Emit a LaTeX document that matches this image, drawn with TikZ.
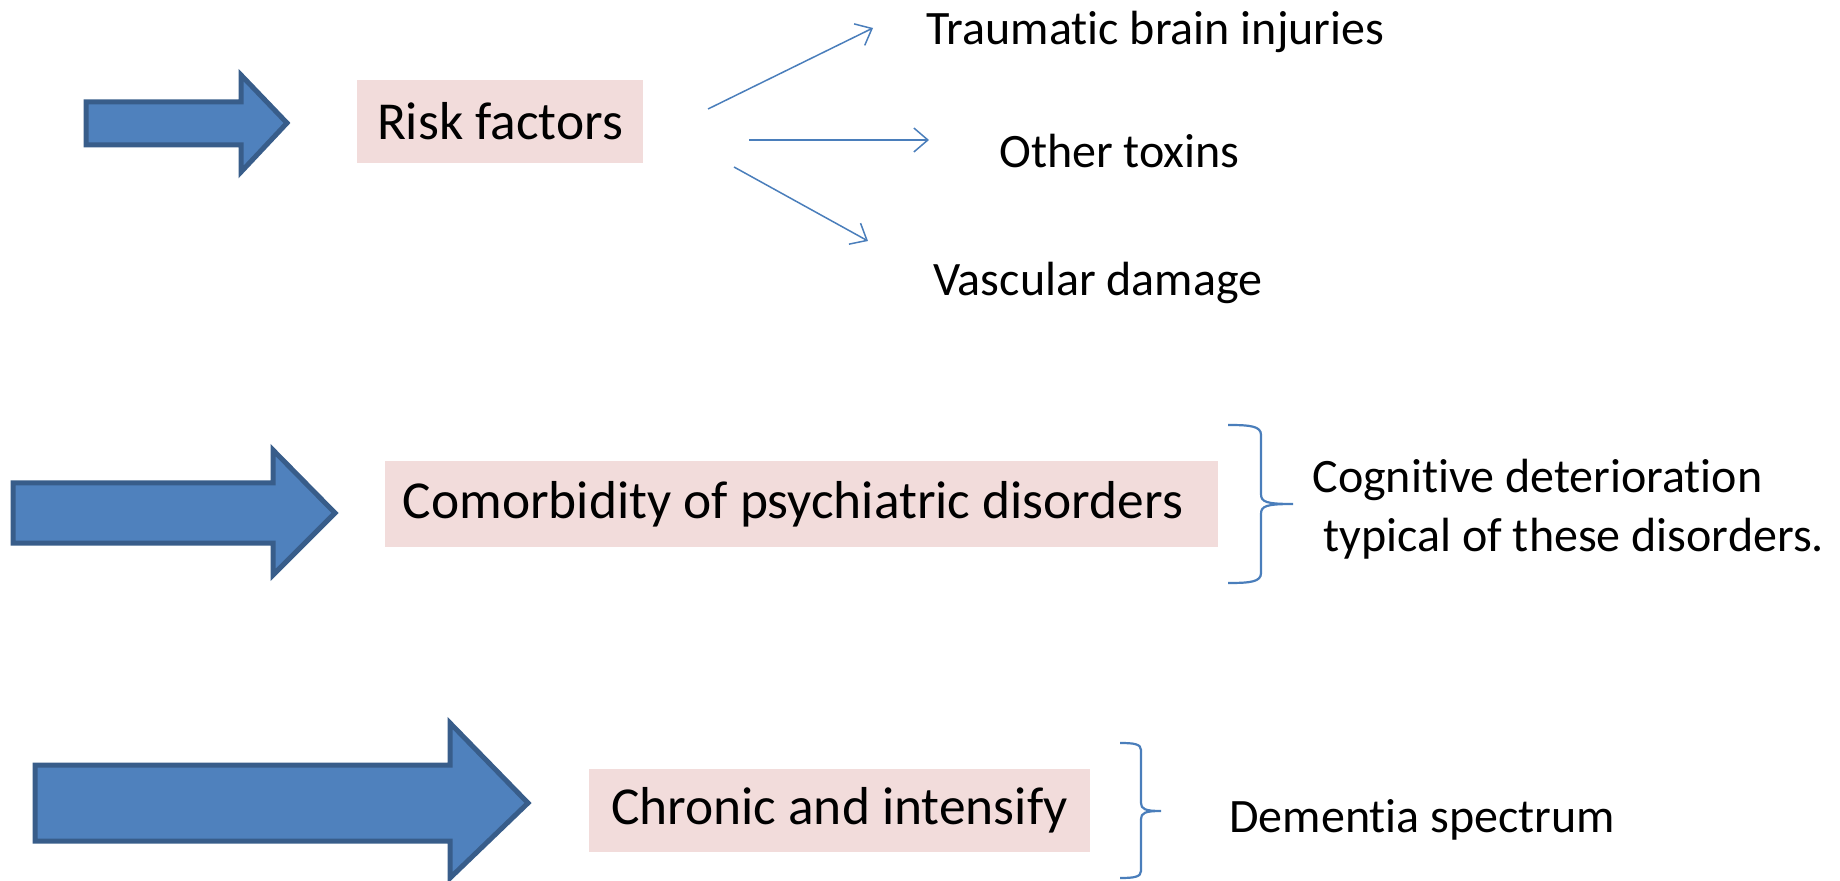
\documentclass[tikz,border=0pt]{standalone}
\usepackage{fontspec}
\setmainfont[Ligatures=NoCommon]{Carlito}
\usetikzlibrary{arrows.meta}
\begin{document}
\begin{tikzpicture}[x=0.5pt,y=-0.5pt,
  bigarrow/.style={fill=arrowfill,draw=arrowline,line width=2.5pt,line join=miter},
  pinkbox/.style={fill=boxpink,inner sep=0pt,font=\fontsize{26.7}{32}\selectfont},
  label/.style={inner sep=0pt,font=\fontsize{24}{29.5}\selectfont},
  thin/.style={draw=linkblue,line width=0.75pt,-{Straight Barb[length=7pt,width=12pt]}},
  bracestyle/.style={draw=linkblue,line width=1.1pt}]
\definecolor{arrowfill}{HTML}{4F81BD}
\definecolor{arrowline}{HTML}{385D8A}
\definecolor{boxpink}{HTML}{F2DCDB}
\definecolor{linkblue}{HTML}{4A7EBB}
\useasboundingbox (0,0) rectangle (1840,881);

% big block arrows
\draw[bigarrow] (86,102) -- (241,102) -- (241,75) -- (287,123) -- (241,172) -- (241,145) -- (86,145) -- cycle;
\draw[bigarrow] (13,483) -- (273,483) -- (273,450) -- (335,513) -- (273,575) -- (273,543) -- (13,543) -- cycle;
\draw[bigarrow] (35,765) -- (450,765) -- (450,723) -- (528,803) -- (450,878) -- (450,841) -- (35,841) -- cycle;

% pink boxes
\node[pinkbox,minimum width=143pt,minimum height=41.5pt] (risk) at (500,121.5) {Risk factors};
\node[pinkbox,minimum width=416.5pt,minimum height=43pt] (como) at (801,504) {Comorbidity of psychiatric disorders\hspace*{8pt}};
\node[pinkbox,minimum width=250.5pt,minimum height=41.5pt] (chron) at (839.5,810.5) {Chronic and intensify};

% labels
\node[label,anchor=west] (tbi) at (926,32) {Traumatic brain injuries};
\node[label,anchor=west] (tox) at (999,151) {Other toxins};
\node[label,anchor=west] (vas) at (933,283) {Vascular damage};
\node[label,anchor=west,align=left] (cog) at (1312,509) {Cognitive deterioration\\\hspace*{0.23em}typical of these disorders.};
\node[label,anchor=west] (dem) at (1229,820) {Dementia spectrum};

% thin arrows
\coordinate (s1) at (708,109);
\coordinate (e1) at (873,28);
\coordinate (s2) at (749,140);
\coordinate (e2) at (929,140);
\coordinate (s3) at (734,167);
\coordinate (e3) at (868,241);
\draw[thin] (s1) -- (e1);
\draw[thin] (s2) -- (e2);
\draw[thin] (s3) -- (e3);

% braces
\draw[bracestyle] (1228,425) .. controls (1250,425) and (1261,426) .. (1261,435)
  -- (1261,494) .. controls (1261,502) and (1266,504) .. (1293,504)
  .. controls (1266,504) and (1261,506) .. (1261,514)
  -- (1261,573) .. controls (1261,582) and (1250,583) .. (1228,583);
\draw[bracestyle] (1120,743) .. controls (1134,743) and (1141,744) .. (1141,750)
  -- (1141,803) .. controls (1141,809) and (1145,811) .. (1161,811)
  .. controls (1145,811) and (1141,813) .. (1141,819)
  -- (1141,871) .. controls (1141,877) and (1134,878) .. (1120,878);
\end{tikzpicture}
\end{document}
